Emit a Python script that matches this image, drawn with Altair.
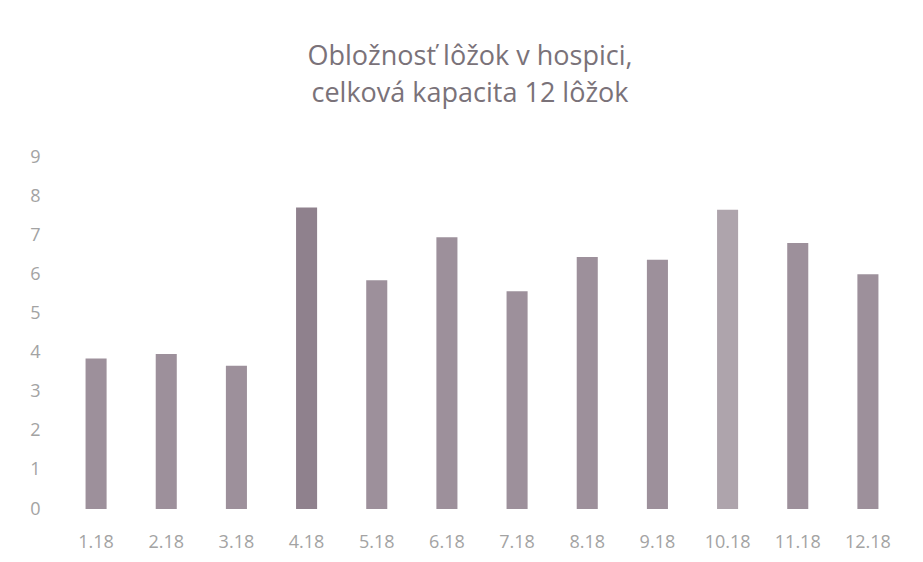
import altair as alt
import pandas as pd

months = ["1.18", "2.18", "3.18", "4.18", "5.18", "6.18",
          "7.18", "8.18", "9.18", "10.18", "11.18", "12.18"]
occupancy = [3.85, 3.96, 3.66, 7.71, 5.85, 6.95,
             5.57, 6.44, 6.37, 7.65, 6.80, 6.00]

df = pd.DataFrame({"month": months, "value": occupancy})

bar_colors = ["#9d909b"] * 12
bar_colors[3] = "#8f818d"
bar_colors[9] = "#aea4ac"

chart = alt.Chart(df).mark_bar().encode(
    x=alt.X("month:N", sort=months,
            scale=alt.Scale(paddingInner=0.7, paddingOuter=0.35),
            axis=alt.Axis(title=None, labelAngle=0, domain=False, ticks=False,
                          labelPadding=24, labelFontSize=18, labelColor="#a3a3a3",
                          labelFont="Open Sans")),
    y=alt.Y("value:Q", scale=alt.Scale(domain=[0, 9], nice=False),
            axis=alt.Axis(title=None, values=list(range(10)), domain=False, ticks=False,
                          grid=False, labelPadding=21, labelFontSize=18,
                          labelColor="#a3a3a3", labelFont="Open Sans")),
    color=alt.Color("month:N", scale=alt.Scale(domain=months, range=bar_colors), legend=None),
).properties(
    width=842,
    height=352,
    title=alt.TitleParams(
        text=["Obložnosť lôžok v hospici,", "celková kapacita 12 lôžok"],
        font="Open Sans", fontSize=27, fontWeight="normal", color="#7a7279",
        lineHeight=37, anchor="middle", offset=40, dx=-12,
    ),
    autosize=alt.AutoSizeParams(type="none"),
    padding={"left": 53, "top": 149, "right": 12, "bottom": 45},
).configure_view(stroke=None)

chart.save("out.html", embed_options={"renderer": "svg", "actions": False})
